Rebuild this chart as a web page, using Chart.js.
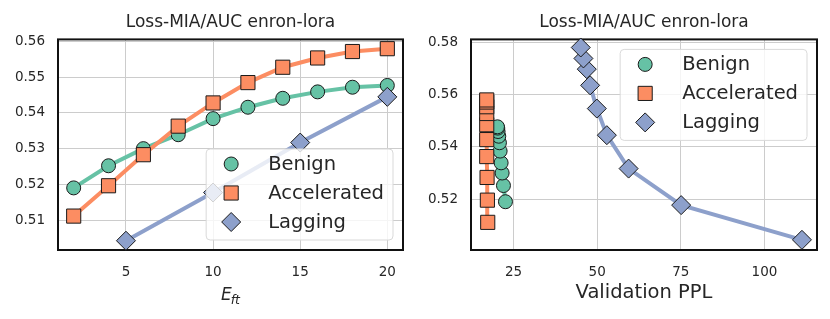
<!DOCTYPE html>
<html>
<head>
<meta charset="utf-8">
<script src="https://cdn.jsdelivr.net/npm/chart.js@4.4.1/dist/chart.umd.min.js"></script>
<style>
html,body{margin:0;padding:0;background:#fff;}
#wrap{position:relative;width:830px;height:319px;}
.box{position:absolute;top:0;width:415px;height:319px;}
</style>
</head>
<body>
<div id="wrap">
  <div class="box" style="left:0"><canvas id="left" width="415" height="319"></canvas></div>
  <div class="box" style="left:415px"><canvas id="right" width="415" height="319"></canvas></div>
</div>
<script>
// data
var epochs = [2, 4, 6, 8, 10, 12, 14, 16, 18, 20];
var lagEpochs = [5, 10, 15, 20];
var benignAuc = [0.5190, 0.5252, 0.5300, 0.5339, 0.5384, 0.5416, 0.5441, 0.5459, 0.5472, 0.5477];
var accelAuc = [0.5111, 0.5196, 0.5283, 0.5363, 0.5428, 0.5485, 0.5528, 0.5554, 0.5572, 0.5580];
var lagAuc = [0.5042, 0.5177, 0.5317, 0.5445];

var benignPpl = [22.6, 22.0, 21.6, 21.3, 21.0, 20.8, 20.6, 20.4, 20.3, 20.2];
var accelPpl = [17.3, 17.2, 17.1, 17.0, 17.0, 17.0, 17.0, 17.0, 17.0, 17.0];
var lagPpl = [111.2, 75.1, 59.4, 52.9, 49.9, 47.9, 46.9, 45.9, 45.1];
var lagPplAuc = [0.5044, 0.5177, 0.5317, 0.5445, 0.5547, 0.5636, 0.5698, 0.5739, 0.5781];

var leftXTicks = [5, 10, 15, 20];
var leftYTicks = [0.51, 0.52, 0.53, 0.54, 0.55, 0.56];
var rightXTicks = [25, 50, 75, 100];
var rightYTicks = [0.52, 0.54, 0.56, 0.58];

var titleText = 'Loss-MIA/AUC enron-lora';
var GREEN = '#66c2a5', ORANGE = '#fc8d62', BLUE = '#8da0cb', INK = '#262626';

Chart.defaults.font.family = '"DejaVu Sans", sans-serif';
Chart.defaults.color = INK;

function pts(xs, ys) {
    var out = [];
    for (var i = 0; i < xs.length; i++) out.push({x: xs[i], y: ys[i]});
    return out;
}

function series(label, data, color, style, r, order) {
    return {
        label: label, data: data, showLine: true,
        borderColor: color, borderWidth: 4,
        pointStyle: style, pointRadius: r, pointHoverRadius: r,
        pointBackgroundColor: color, pointBorderColor: '#1a1a1a', pointBorderWidth: 1,
        order: order, clip: false
    };
}

function drawMarker(ctx, style, x, y, r) {
    ctx.beginPath();
    if (style == 'circle') {
        ctx.arc(x, y, r, 0, Math.PI * 2);
    } else if (style == 'rect') {
        var h = r * Math.SQRT1_2;
        ctx.rect(x - h, y - h, 2 * h, 2 * h);
    } else {
        ctx.moveTo(x - r, y); ctx.lineTo(x, y - r); ctx.lineTo(x + r, y); ctx.lineTo(x, y + r);
        ctx.closePath();
    }
    ctx.fill();
    ctx.stroke();
}

// black box round the plot area
var frame = {
    id: 'frame',
    beforeDatasetsDraw: function (chart) {
        var a = chart.chartArea, ctx = chart.ctx;
        ctx.save();
        ctx.strokeStyle = '#111';
        ctx.lineWidth = 2;
        ctx.strokeRect(a.left, a.top, a.right - a.left, a.bottom - a.top);
        ctx.restore();
    }
};

// matplotlib-like legend inside the axes
var boxLegend = {
    id: 'boxLegend',
    afterDatasetsDraw: function (chart, args, opts) {
        var ctx = chart.ctx, a = chart.chartArea, ds = chart.data.datasets;
        ctx.save();
        ctx.font = '19.5px "DejaVu Sans"';
        var tw = 0;
        ds.forEach(function (d) { tw = Math.max(tw, ctx.measureText(d.label).width); });
        var w = 62 + tw + 9, h = 91;
        var x0 = a.right - 10 - w;
        var y0 = opts.corner == 'top' ? a.top + 10 : a.bottom - 10 - h;
        var r = 4;
        ctx.beginPath();
        ctx.moveTo(x0 + r, y0);
        ctx.arcTo(x0 + w, y0, x0 + w, y0 + h, r);
        ctx.arcTo(x0 + w, y0 + h, x0, y0 + h, r);
        ctx.arcTo(x0, y0 + h, x0, y0, r);
        ctx.arcTo(x0, y0, x0 + w, y0, r);
        ctx.closePath();
        ctx.fillStyle = 'rgba(255,255,255,0.8)';
        ctx.fill();
        ctx.strokeStyle = '#d9d9d9';
        ctx.lineWidth = 1;
        ctx.stroke();
        for (var i = 0; i < ds.length; i++) {
            var yy = y0 + 15 + 29 * i;
            ctx.fillStyle = ds[i].pointBackgroundColor;
            ctx.strokeStyle = ds[i].pointBorderColor;
            ctx.lineWidth = 1;
            drawMarker(ctx, ds[i].pointStyle, x0 + 25, yy, ds[i].pointRadius);
            ctx.fillStyle = INK;
            ctx.textBaseline = 'middle';
            ctx.textAlign = 'left';
            ctx.fillText(ds[i].label, x0 + 62, yy + 1);
        }
        ctx.restore();
    }
};

// x label E_ft with italic subscript
var eftLabel = {
    id: 'eftLabel',
    afterDraw: function (chart) {
        var ctx = chart.ctx, a = chart.chartArea;
        var cx = (a.left + a.right) / 2;
        ctx.save();
        ctx.fillStyle = INK;
        ctx.textBaseline = 'alphabetic';
        ctx.textAlign = 'left';
        ctx.font = 'italic 17px "DejaVu Sans"';
        var ew = ctx.measureText('E').width;
        ctx.font = 'italic 12.5px "DejaVu Sans"';
        var fw = ctx.measureText('ft').width;
        var x = cx - (ew + fw - 1) / 2;
        ctx.font = 'italic 17px "DejaVu Sans"';
        ctx.fillText('E', x, 300);
        ctx.font = 'italic 12.5px "DejaVu Sans"';
        ctx.fillText('ft', x + ew - 1, 303.5);
        ctx.restore();
    }
};

function makeOptions(o) {
    return {
        responsive: false,
        animation: false,
        events: [],
        layout: {padding: {left: 0, right: o.padRight, top: 0, bottom: 0}},
        plugins: {
            legend: {display: false},
            tooltip: {enabled: false},
            title: {
                display: true, text: titleText, color: INK, fullSize: false,
                font: {size: 17, weight: 'normal'},
                padding: {top: 12, bottom: 7}
            },
            boxLegend: {corner: o.corner}
        },
        scales: {
            x: {
                type: 'linear', min: o.xMin, max: o.xMax,
                afterBuildTicks: function (s) { s.ticks = o.xTicks.map(function (v) { return {value: v}; }); },
                afterFit: function (s) { s.height = 69; },
                ticks: {font: {size: 13.5}, color: INK, padding: 14, maxRotation: 0,
                    callback: function (v) { return String(v); }},
                grid: {color: '#cccccc', lineWidth: 1, drawTicks: false},
                border: {display: false},
                title: {display: !!o.xTitle, text: o.xTitle || '', color: INK,
                    font: {size: 19.5}, padding: {top: 0, bottom: 14}}
            },
            y: {
                type: 'linear', min: o.yMin, max: o.yMax,
                afterBuildTicks: function (s) { s.ticks = o.yTicks.map(function (v) { return {value: v}; }); },
                afterFit: function (s) { s.width = o.yWidth; },
                ticks: {font: {size: 13.5}, color: INK, padding: 13,
                    callback: function (v) { return v.toFixed(2); }},
                grid: {color: '#cccccc', lineWidth: 1, drawTicks: false},
                border: {display: false}
            }
        }
    };
}

new Chart(document.getElementById('left').getContext('2d'), {
    type: 'scatter',
    data: {
        datasets: [
            series('Benign', pts(epochs, benignAuc), GREEN, 'circle', 7, 2),
            series('Accelerated', pts(epochs, accelAuc), ORANGE, 'rect', 10, 1),
            series('Lagging', pts(lagEpochs, lagAuc), BLUE, 'rectRot', 9.5, 0)
        ]
    },
    options: makeOptions({padRight: 12, yWidth: 58, corner: 'bottom',
        xMin: 1.1, xMax: 20.9, yMin: 0.5016, yMax: 0.5606,
        xTicks: leftXTicks, yTicks: leftYTicks, xTitle: null}),
    plugins: [frame, boxLegend, eftLabel]
});

new Chart(document.getElementById('right').getContext('2d'), {
    type: 'scatter',
    data: {
        datasets: [
            series('Benign', pts(benignPpl, benignAuc), GREEN, 'circle', 7, 2),
            series('Accelerated', pts(accelPpl, accelAuc), ORANGE, 'rect', 10, 1),
            series('Lagging', pts(lagPpl, lagPplAuc), BLUE, 'rectRot', 9.5, 0)
        ]
    },
    options: makeOptions({padRight: 13, yWidth: 56, corner: 'top',
        xMin: 12.3, xMax: 115.7, yMin: 0.5005, yMax: 0.5812,
        xTicks: rightXTicks, yTicks: rightYTicks, xTitle: 'Validation PPL'}),
    plugins: [frame, boxLegend]
});
</script>
</body>
</html>
